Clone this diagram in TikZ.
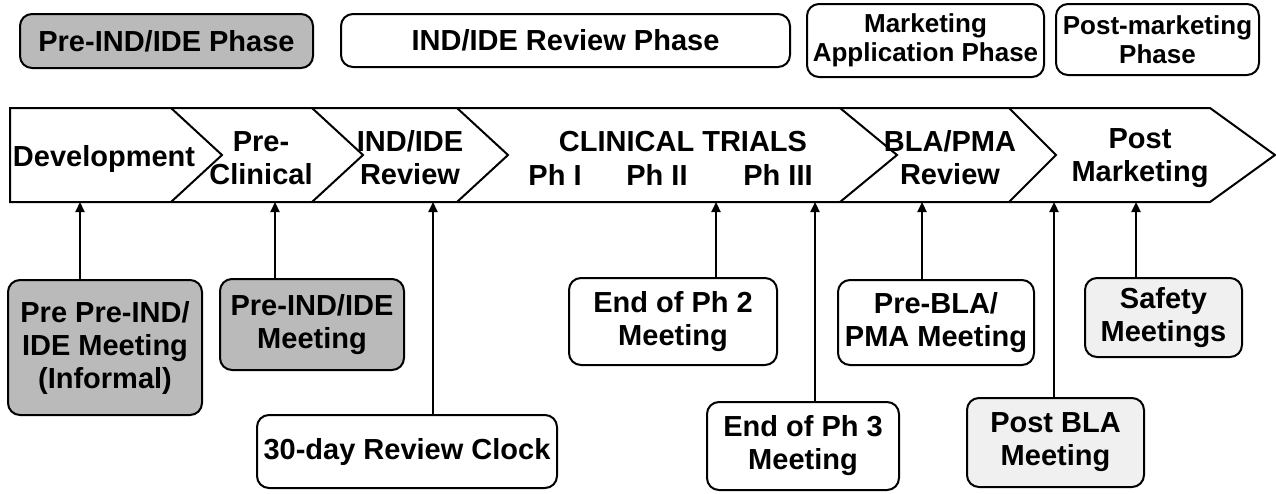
\documentclass[tikz,border=0pt]{standalone}
\usepackage{fontspec}
\setmainfont{Liberation Sans}
\usetikzlibrary{arrows.meta}
\begin{document}
\begin{tikzpicture}[x=1pt,y=-1pt,
  every node/.style={font=\fontsize{29}{33}\selectfont\bfseries, align=center, inner sep=0pt},
  small/.style={font=\fontsize{26}{29}\selectfont\bfseries},
  rbox/.style={draw, line width=2pt, rounded corners=12pt},
  darkfill/.style={fill=black!27},
  lightfill/.style={fill=black!6},
  band/.style={draw, line width=2pt, line join=miter},
  arr/.style={line width=2.2pt, -{Triangle[length=10pt,width=9pt]}},
]
\useasboundingbox (0,0) rectangle (1276,493);
% legend
\node[rbox,darkfill,minimum width=293pt,minimum height=54pt] (legA) at (166.5,41) {Pre-IND/IDE Phase};
\node[rbox,minimum width=449pt,minimum height=53pt] (legB) at (565.5,40.5) {IND/IDE Review Phase};
\node[rbox,small,minimum width=237pt,minimum height=73pt] (legC) at (925.5,40.5) {Marketing\\Application Phase};
\node[rbox,small,minimum width=203pt,minimum height=71pt] (legD) at (1157.5,39.5) {Post-marketing\\Phase};
% chevron band
\draw[band, fill=white] (10,108) -- (1210,108) -- (1275,155) -- (1210,202) -- (10,202) -- cycle;
\foreach \a/\b in {171/222, 312/363, 457/508, 840/897, 1009/1056}
  \draw[band] (\a,108) -- (\b,155) -- (\a,202);
\node (c1) at (104,159) {Development};
\node (c2) at (261,158) {Pre-\\Clinical};
\node (c3) at (410,158) {IND/IDE\\Review};
\node (c4) at (683,141.5) {CLINICAL TRIALS};
\node (ph1) at (555,174.5) {Ph I};
\node (ph2) at (657,174.5) {Ph II};
\node (ph3) at (778,174.5) {Ph III};
\node (c5) at (950,158) {BLA/PMA\\Review};
\node (c6) at (1140,158) {Post\\Marketing};
% anchor points on band
\foreach \n/\x in {p1/80, p2/275, p3/433, p4/716, p5/815, p6/922, p7/1054, p8/1136}
  \coordinate (\n) at (\x,202);
% meeting boxes
\node[rbox,darkfill,minimum width=194pt,minimum height=135pt] (m1) at (105,347.5) {Pre Pre-IND/\\IDE Meeting\\(Informal)};
\node[rbox,darkfill,minimum width=184pt,minimum height=91pt] (m2) at (312,324.5) {Pre-IND/IDE\\Meeting};
\node[rbox,minimum width=300pt,minimum height=73pt] (m3) at (407,451.5) {30-day Review Clock};
\node[rbox,minimum width=208pt,minimum height=87pt] (m4) at (673,321.5) {End of Ph 2\\Meeting};
\node[rbox,minimum width=192pt,minimum height=88pt] (m5) at (803,446) {End of Ph 3\\Meeting};
\node[rbox,minimum width=196pt,minimum height=85pt] (m6) at (936,322.5) {Pre-BLA/\\PMA Meeting};
\node[rbox,lightfill,minimum width=177pt,minimum height=89pt] (m7) at (1055.5,442.5) {Post BLA\\Meeting};
\node[rbox,lightfill,minimum width=157pt,minimum height=79pt] (m8) at (1163.5,317.5) {Safety\\Meetings};
% arrows
\draw[arr] (m1.north -| p1) -- (p1);
\draw[arr] (m2.north -| p2) -- (p2);
\draw[arr] (m3.north -| p3) -- (p3);
\draw[arr] (m4.north -| p4) -- (p4);
\draw[arr] (m5.north -| p5) -- (p5);
\draw[arr] (m6.north -| p6) -- (p6);
\draw[arr] (m7.north -| p7) -- (p7);
\draw[arr] (m8.north -| p8) -- (p8);
\end{tikzpicture}
\end{document}
